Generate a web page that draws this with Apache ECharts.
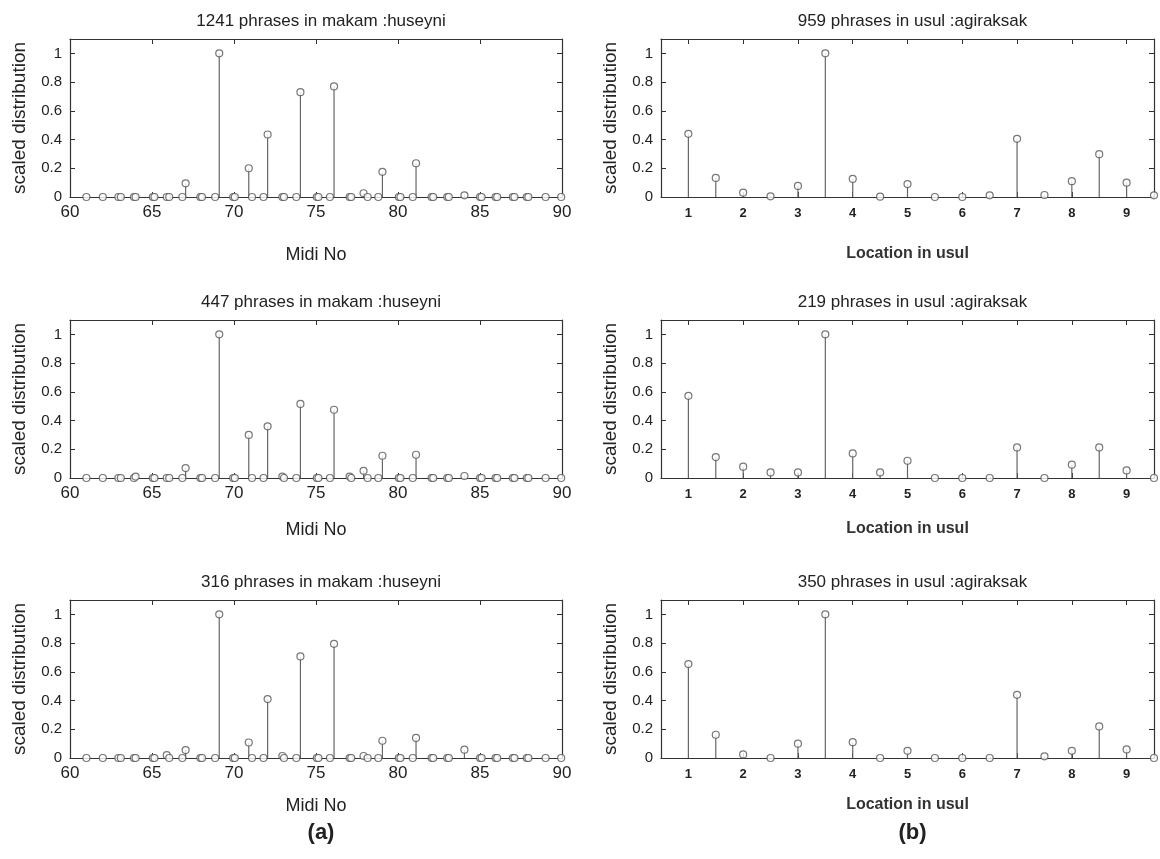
<!DOCTYPE html>
<html>
<head>
<meta charset="utf-8">
<script src="https://cdn.jsdelivr.net/npm/echarts@6/dist/echarts.min.js"></script>
<style>html,body{margin:0;padding:0;background:#fff}#c{width:1160px;height:859px}</style>
</head>
<body>
<div id="c"></div>
<script>
// ---- data ----
const midiPitches = [61, 62, 62.95, 63.1, 63.9, 64.0, 65.05, 65.15, 65.9, 66.05, 66.85, 67.05, 67.95, 68.05, 68.85, 69.1, 69.95, 70.05, 70.9, 71.1, 71.8, 72.05, 72.95, 73.05, 73.8, 74.05, 75.05, 75.15, 75.85, 76.1, 77.05, 77.15, 77.9, 78.15, 78.8, 79.05, 80.05, 80.15, 80.9, 81.1, 82.05, 82.15, 83.0, 83.1, 84.05, 85.0, 85.1, 85.95, 86.05, 87.0, 87.1, 87.85, 87.95, 89.0, 89.95];
const makam1241 = [0,0,0,0,0,0,0,0,0,0,0,0.095,0,0,0,1.0,0,0,0.20,0,0,0.435,0,0,0,0.73,0,0,0,0.77,0,0,0.026,0,0,0.175,0,0,0,0.235,0,0,0,0,0.012,0,0,0,0,0,0,0,0,0,0];
const makam447  = [0,0,0,0,0,0.01,0,0,0,0,0,0.069,0,0,0,1.0,0,0,0.30,0,0,0.36,0.01,0,0,0.516,0,0,0,0.475,0.01,0,0.05,0,0,0.155,0,0,0,0.162,0,0,0,0,0.014,0,0,0,0,0,0,0,0,0,0];
const makam316  = [0,0,0,0,0,0,0,0,0.02,0,0,0.055,0,0,0,1.0,0,0,0.108,0,0,0.41,0.014,0,0,0.707,0,0,0,0.795,0,0,0.014,0,0,0.12,0,0,0,0.14,0,0,0,0,0.058,0,0,0,0,0,0,0,0,0,0];
const usulLocations = [1, 1.5, 2, 2.5, 3, 3.5, 4, 4.5, 5, 5.5, 6, 6.5, 7, 7.5, 8, 8.5, 9, 9.5];
const usul959 = [0.44, 0.133, 0.03, 0.005, 0.077, 1.0, 0.126, 0.002, 0.09, 0, 0, 0.012, 0.405, 0.014, 0.11, 0.298, 0.10, 0.012];
const usul219 = [0.572, 0.146, 0.079, 0.039, 0.039, 1.0, 0.171, 0.039, 0.12, 0, 0, 0, 0.213, 0, 0.093, 0.213, 0.053, 0];
const usul350 = [0.654, 0.162, 0.025, 0, 0.10, 1.0, 0.11, 0, 0.05, 0, 0, 0, 0.44, 0.012, 0.05, 0.22, 0.06, 0];
const midiTicks = [60, 65, 70, 75, 80, 85, 90];
const usulTicks = [1, 2, 3, 4, 5, 6, 7, 8, 9];
const yTicks = [0, 0.2, 0.4, 0.6, 0.8, 1];
const leftTitles = ['1241 phrases in makam :huseyni', '447 phrases in makam :huseyni', '316 phrases in makam :huseyni'];
const rightTitles = ['959 phrases in usul :agiraksak', '219 phrases in usul :agiraksak', '350 phrases in usul :agiraksak'];

// ---- layout ----
const FONT = "'Liberation Sans', Arial, Helvetica, sans-serif";
const rowsTop = [39, 320, 600];
const rowNameGap = [49, 43, 39];
const rowH = 158;
const LEFT = {left: 70, width: 492};
const RIGHT = {left: 661, width: 493};
const AX = '#333';

const panels = [];
for (let r = 0; r < 3; r++) {
  panels.push({side: 'L', row: r, xs: midiPitches, ys: [makam1241, makam447, makam316][r], title: leftTitles[r]});
  panels.push({side: 'R', row: r, xs: usulLocations, ys: [usul959, usul219, usul350][r], title: rightTitles[r]});
}

const grid = [], xAxis = [], yAxis = [], series = [], title = [];
panels.forEach((p, i) => {
  const g = p.side === 'L' ? LEFT : RIGHT;
  const top = rowsTop[p.row];
  grid.push({left: g.left, width: g.width, top: top, height: rowH, show: false});
  const isL = p.side === 'L';
  xAxis.push({
    gridIndex: i, type: 'value', position: 'bottom',
    min: isL ? 60 : 0.5, max: isL ? 90 : 9.5,
    axisLine: {show: true, onZero: false, lineStyle: {color: AX, width: 1.2}},
    splitLine: {show: false},
    axisTick: {show: true, inside: true, length: 5, lineStyle: {color: AX}, customValues: isL ? midiTicks : usulTicks},
    axisLabel: isL
      ? {customValues: midiTicks, color: '#222', fontSize: 17, fontFamily: FONT, margin: 7}
      : {customValues: usulTicks, color: '#222', fontSize: 13, fontWeight: 'bold', fontFamily: FONT, margin: 10},
    name: isL ? 'Midi No' : 'Location in usul',
    nameLocation: 'middle',
    nameGap: rowNameGap[p.row],
    nameTextStyle: isL ? {color: '#222', fontSize: 18, fontFamily: FONT} : {color: '#333', fontSize: 16, fontWeight: 'bold', fontFamily: FONT}
  });
  yAxis.push({
    gridIndex: i, type: 'value', min: 0, max: 1.1, position: 'left',
    axisLine: {show: true, lineStyle: {color: AX, width: 1.2}},
    splitLine: {show: false},
    axisTick: {show: true, inside: true, length: 5, lineStyle: {color: AX}, customValues: yTicks},
    axisLabel: {customValues: yTicks, color: '#222', fontSize: 15, fontFamily: FONT, margin: 8},
    name: 'scaled distribution', nameLocation: 'middle', nameRotate: 90,
    nameGap: 41,
    nameTextStyle: {color: '#222', fontSize: 19, fontFamily: FONT}
  });
  series.push({
    type: 'custom', xAxisIndex: i, yAxisIndex: i, silent: true,
    data: p.xs.map((x, k) => [x, p.ys[k]]),
    renderItem: function (params, api) {
      const a = api.coord([api.value(0), 0]);
      const b = api.coord([api.value(0), api.value(1)]);
      return {type: 'line', shape: {x1: a[0], y1: a[1], x2: b[0], y2: b[1]}, style: {stroke: '#666', lineWidth: 1.2}};
    }
  });
  series.push({
    type: 'scatter', xAxisIndex: i, yAxisIndex: i, silent: true,
    symbol: 'circle', symbolSize: 7,
    itemStyle: {color: '#fff', borderColor: '#555', borderWidth: 1.2},
    data: p.xs.map((x, k) => [x, p.ys[k]]),
    z: 3
  });
  title.push({
    text: p.title, left: g.left + g.width / 2, top: top - 31, textAlign: 'center',
    textStyle: {color: '#222', fontSize: 17, fontWeight: 'normal', fontFamily: FONT}
  });
});
// mirror axes (top / right) carrying the box ticks
panels.forEach((p, i) => {
  const isL = p.side === 'L';
  xAxis.push({
    gridIndex: i, type: 'value', position: 'top', min: isL ? 60 : 0.5, max: isL ? 90 : 9.5,
    axisLine: {show: true, onZero: false, lineStyle: {color: AX, width: 1.2}},
    axisTick: {show: true, inside: true, length: 5, lineStyle: {color: AX}, customValues: isL ? midiTicks : usulTicks},
    axisLabel: {show: false}, splitLine: {show: false}
  });
  yAxis.push({
    gridIndex: i, type: 'value', position: 'right', min: 0, max: 1.1,
    axisLine: {show: true, onZero: false, lineStyle: {color: AX, width: 1.2}},
    axisTick: {show: true, inside: true, length: 5, lineStyle: {color: AX}, customValues: yTicks},
    axisLabel: {show: false}, splitLine: {show: false}
  });
});
title.push({text: '(a)', left: LEFT.left + LEFT.width / 2, top: 817, textAlign: 'center', textStyle: {color: '#222', fontSize: 22, fontWeight: 'bold', fontFamily: FONT}});
title.push({text: '(b)', left: RIGHT.left + RIGHT.width / 2, top: 817, textAlign: 'center', textStyle: {color: '#222', fontSize: 22, fontWeight: 'bold', fontFamily: FONT}});

const chart = echarts.init(document.getElementById('c'), null, {renderer: 'canvas'});
chart.setOption({animation: false, backgroundColor: '#fff', title, grid, xAxis, yAxis, series});
</script>
</body>
</html>
